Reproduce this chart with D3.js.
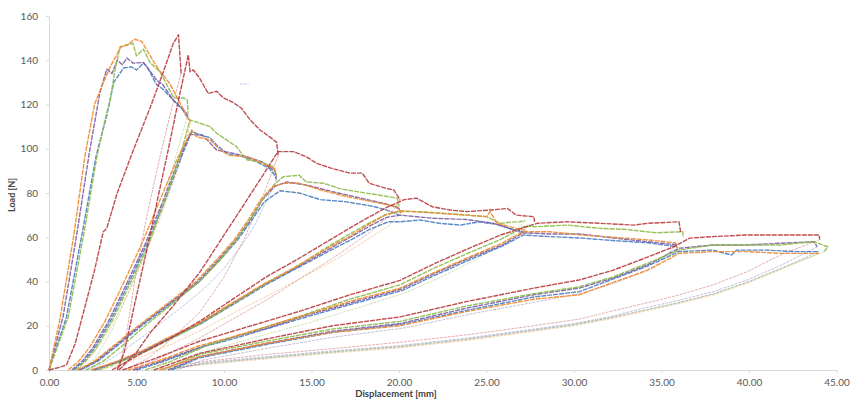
<!DOCTYPE html>
<html>
<head>
<meta charset="utf-8">
<script src="https://cdn.jsdelivr.net/npm/d3@7"></script>
<style>
  body { margin: 0; background: #fff; }
  text { font-family: Lato, "Open Sans", sans-serif; }
</style>
</head>
<body>
<script>
// Axis ticks
const xTicks = [0, 5, 10, 15, 20, 25, 30, 35, 40, 45];
const yTicks = [0, 20, 40, 60, 80, 100, 120, 140, 160];

// Specimen blue: [displacement mm, load N], cycle 1..6 + final unloading
const blue1 = [[0,0],[1.0,24],[1.9,62],[2.7,97],[3.3,115],[3.7,130],[4.26,136.5],[4.7,137],[5.0,135.6],[5.4,138.7],[5.6,137],[6.15,129],[6.5,127],[7.1,122],[7.6,118],[8.0,113]];
const blue2 = [[1.4,0],[2.0,4],[2.6,10],[3.5,22],[4.6,40],[5.6,57],[6.6,76],[7.5,95],[8.15,107.7],[8.8,106],[9.2,105],[9.58,101.7],[10.15,98],[11.1,96.4],[11.9,94],[12.6,91],[12.9,88],[13.0,86]];
const blue3 = [[1.8,0],[2.8,4],[3.9,11],[5.3,20],[6.8,29],[8.6,40],[9.8,50],[10.8,59],[11.6,68],[12.3,76],[13.2,81],[14.3,80],[15.5,77],[17,76],[18.5,74],[19.3,72.3],[20.0,70]];
const blue4 = [[2.6,0],[4.1,4],[5.6,9],[7.1,15],[8.7,21],[10.6,30],[12.5,39],[14.4,47],[16.3,55],[17.3,59],[18.3,63.5],[19.4,67],[20.06,67],[21.2,67.8],[22.3,66.3],[23.5,65.5],[24.6,67],[25.8,65.5],[26.5,63.3],[27.1,62]];
const blue5 = [[5.0,0],[6.6,4],[8.8,10.5],[10.7,14.5],[12.6,19],[14.5,23.5],[17.4,30],[20.2,36],[22.1,43],[24.1,50],[25.9,56],[27.1,61],[28.6,60.3],[30.5,59.6],[32.2,58.5],[34.2,57.5],[35.9,55.7]];
const blue6 = [[7.0,0],[8.6,5.5],[12.4,11.5],[16.2,17],[20.06,20.5],[23.9,27],[27.7,33],[30.3,35.4],[32.2,41],[34.2,47],[36,53.5],[37.9,54.2],[39,52],[39.3,54.2],[40.9,54.2],[42.7,53.5],[44,53.5]];
const blueU = [[44,53.5],[42,46.5],[40,40],[38,34.5],[36,30.5],[34,27],[32,23.5],[30,20.5],[27.7,18],[24,14],[20,10.5],[16,8],[12.4,5.5],[9,3],[7.0,0.5]];

// Specimen orange
const orange1 = [[0,0],[0.6,22],[1.4,60],[2.06,97],[2.6,120],[3.0,128],[3.5,137],[4.1,146],[4.5,147],[4.9,149.5],[5.3,148.5],[5.6,144.5],[6.0,139],[6.3,135.5],[6.9,129.5],[7.5,120.5],[7.9,114.5],[8.1,112]];
const orange2 = [[1.1,0],[1.7,4],[2.3,10],[3.2,22],[4.3,40],[5.3,57],[6.3,76],[7.3,95],[8.15,108.5],[8.44,105.4],[9.2,104],[9.4,102.6],[9.77,99.4],[10.3,97],[11.3,96.4],[12.2,93.4],[12.9,91],[13.0,88]];
const orange3 = [[1.6,0],[2.6,4],[3.7,11],[5.1,20],[6.6,29],[8.4,40],[9.6,50],[10.6,59],[11.4,68],[12.1,77],[12.8,83],[13.4,84.4],[14.3,84.4],[15.5,81.4],[17,78.4],[18.5,76],[19.9,73.8],[20.1,71]];
const orange4 = [[2.4,0],[3.9,4],[5.4,9],[6.9,15],[8.5,21],[10.4,30],[12.3,39],[14.2,47],[16.1,56],[17.1,60],[18.1,65],[19.2,70],[20.06,72],[21.9,71],[23.9,70],[25,69.3],[25.2,71.6],[25.6,66.3],[26.7,64],[27.3,63]];
const orange5 = [[4.5,0],[6.2,4],[8.6,11],[10.5,15],[12.4,19.5],[14.3,24],[17.2,31],[20.06,37],[22,44],[24,51],[25.8,57],[27.1,62.5],[28.6,62.5],[30.5,61],[32.2,60],[34.2,58.8],[35.8,57.5],[35.9,55]];
const orange6 = [[6.3,0],[8.6,6],[12.4,12],[16.2,17],[20.06,20],[23.9,26.5],[27.7,32],[30.3,34],[32.2,39.5],[34.2,45],[36,52.7],[37.9,53.5],[39.9,53.5],[41.8,52.7],[44,52.7]];
const orangeU = [[44,52.7],[42,46],[40,39.5],[38,34],[36,30],[34,26.5],[32,23],[30,20],[27.7,17.5],[24,13.5],[20,10],[16,7.5],[12.4,5],[9,2.5],[6.6,0.3]];

// Specimen green
const green1 = [[0,0],[1.1,24],[2.0,62],[2.75,97],[3.2,113],[3.5,122],[3.77,135.6],[4.06,146],[4.44,146.9],[4.8,147.6],[5.0,142],[5.4,145],[5.77,139],[6.34,134.8],[7.1,123.5],[7.3,122.9],[7.67,123],[7.9,122],[7.95,116]];
const green2 = [[1.5,0],[2.1,4],[2.7,10],[3.6,22],[4.7,40],[5.7,57],[6.6,76],[7.5,97],[8.06,113],[8.6,111.6],[9.2,110],[9.58,107],[9.96,105],[10.7,101],[11.3,95],[12.06,94],[12.8,92],[13.0,88]];
const green3 = [[2.1,0],[3.1,4],[4.2,11],[5.5,20],[6.9,29],[8.6,40],[9.8,50],[10.7,59],[11.5,68],[12.2,77],[12.9,84],[13.4,87.4],[14.3,88],[14.7,85],[15.7,84.4],[16.6,82],[17.6,80.6],[18.9,79],[19.9,77.7],[20.0,74]];
const green4 = [[2.8,0],[4.2,4],[5.7,9],[7.2,15],[8.7,21],[10.5,30],[12.4,39],[14.3,47.5],[16.2,57],[17.2,61.5],[18.2,66],[19.3,70.5],[20.06,71.6],[21.2,71.6],[22.3,71],[23.9,70],[25,69.3],[25.8,66.3],[26.4,66.8],[26.9,67],[27.2,67.5]];
const green5 = [[5.5,0],[7,4],[9,11],[10.8,15.5],[12.6,20],[14.4,24.5],[17.2,32],[20.06,38.5],[22,46],[24,53],[25.8,59],[27.2,65],[27.9,64.8],[29.6,65.5],[31.5,64],[33,63.5],[34.7,62],[36.2,62.5],[36.25,60]];
const green6 = [[6.5,0],[8.6,7],[12.4,13],[16.2,18.5],[20.06,22],[23.9,29],[27.7,34.5],[30.3,37.6],[32.2,42],[34.2,48.2],[36,54.2],[37.9,56.5],[39.9,56.5],[41.8,56.5],[43.7,58],[44.5,55.7],[44.3,53.5]];
const greenU = [[44.3,53.5],[42,46.5],[40,40],[38,34.5],[36,30.5],[34,27],[32,23.5],[30,20.5],[27.7,18],[24,14],[20,10.5],[16,8],[12.4,5.5],[9,3],[6.8,0.5]];

// Specimen purple
const purple1 = [[0,0],[0.8,24],[1.6,62],[2.3,98],[2.9,125],[3.3,136],[3.6,134],[3.9,140],[4.2,138],[4.45,141],[4.8,138.7],[5.4,139],[5.6,137],[6.15,131],[6.5,129],[7.1,122],[7.7,117.5],[8.0,114.5]];
const purple2 = [[1.3,0],[1.9,4],[2.5,10],[3.4,22],[4.5,40],[5.5,57],[6.5,76],[7.4,95],[8.06,106.5],[8.8,106],[9.58,99.4],[10.5,98],[11.3,96.4],[12.2,94],[12.9,90],[13.0,87]];
const purple3 = [[1.7,0],[2.7,4],[3.8,11],[5.2,20],[6.7,29],[8.5,40],[9.7,50],[10.7,59],[11.5,68],[12.2,77],[12.9,83],[13.6,85],[14.7,83.6],[16.2,80.6],[17.8,77.7],[19.3,75],[20,73],[20.1,71]];
const purple4 = [[2.5,0],[4.0,4],[5.5,9],[7.0,15],[8.6,21],[10.5,30],[12.4,39],[14.3,47],[16.2,55.5],[17.2,60],[18.2,64.5],[19.3,69],[20.06,70],[21.9,68.6],[23.9,68],[25.4,66.3],[26.3,64],[27.1,62.5]];
const purple5 = [[4.8,0],[6.4,4],[8.7,10.5],[10.6,15],[12.5,19],[14.4,24],[17.3,30.5],[20.1,36.5],[22.0,43.5],[24.0,50.5],[25.9,56.5],[27.1,62],[28.6,61.5],[30.3,61.5],[33.2,58.8],[35.9,56.6]];
const purple6 = [[6.8,0],[8.6,6],[12.4,12],[16.2,17.5],[20.06,21],[23.9,28],[27.7,34],[30.3,37],[32.2,41.5],[34.2,47.5],[36,55],[37.9,56.5],[39.9,56.5],[41.8,57.3],[43.7,58],[43.9,55.7]];
const purpleU = [[43.9,55.7],[42,48],[40,41],[38,35.5],[36,31.5],[34,28],[32,24],[30,21],[27.7,18.5],[24,14.5],[20,11],[16,8.5],[12.4,6],[9,3.5],[7.2,0.5]];

// Specimen red
const red1 = [[0,0],[0.5,1],[1.0,2.3],[1.5,12],[2.0,27],[2.6,45],[3.1,62.5],[3.3,64],[3.9,80],[4.8,99],[5.8,119],[6.5,134],[7.1,147.6],[7.4,151.5],[7.55,134]];
const red2 = [[3.9,0],[4.3,8],[4.9,30],[5.58,54],[6.2,77],[6.8,99],[7.4,122],[7.96,142.4],[8.06,134.8],[8.25,135.6],[8.6,132],[9.1,125],[9.58,126],[9.96,123],[10.5,121],[11.0,118.3],[11.5,113],[12.06,108.5],[12.5,106],[13.0,103],[13.1,97]];
const red3 = [[4.0,0],[5,8],[5.8,17],[7.1,29],[8.6,44],[10.5,67],[12.06,86],[12.9,96.4],[13.1,98.7],[13.96,98.7],[14.7,96.4],[15.3,93.4],[16.2,91],[17.2,89],[17.9,89],[18.3,84.4],[19.3,82],[19.7,81.4],[20.06,77]];
const red4 = [[3.6,0],[5.4,8],[7,14.5],[8.6,22],[10.5,32],[12.4,42],[14.3,50.5],[16.2,59.5],[17.8,67],[19.3,73.5],[20.3,77],[21,77.7],[21.9,73.8],[22.9,72.3],[23.9,71.6],[25.2,72.3],[26.2,73],[26.7,70],[27.7,69.3],[27.75,67]];
const red5 = [[4.2,0],[6,5],[8.6,13],[10.5,17.5],[12.4,22],[14.3,26.5],[17.2,34],[20.06,40.5],[22,48],[24,55],[25.8,61],[27.9,66.3],[29.6,67],[31.5,66.3],[33.4,65.5],[34.2,66.3],[36,67],[36.1,62]];
const red6 = [[6.0,0],[8.6,7.5],[12.4,14],[16.2,20],[20.06,24],[23.9,31],[27.7,37],[30.3,40.7],[32.2,45],[34.2,51],[35.7,55.7],[36.6,59.6],[37.9,60.3],[39.9,61],[41.8,61],[43.7,61],[44.0,61],[44.05,59]];
const redU = [[44.05,59],[41.8,52],[39.9,44.4],[37.9,38.4],[36,33.9],[34.2,30.4],[32.2,26.7],[30.3,23],[27.7,20],[24,16],[20,12.5],[16,9.5],[12.4,7],[9,4],[6.3,0.5]];

// Faint unloading branches of earlier cycles
const redF1 = [[7.55,134],[7.0,118],[6.3,95],[5.6,70],[5.0,45],[4.5,20],[4.1,3],[4.0,0]];
const greenF1 = [[7.95,116],[7.3,98],[6.6,78],[5.7,57],[4.6,36],[3.6,18],[2.7,6],[2.0,0]];
const orangeF1 = [[8.1,112],[7.5,94],[6.6,74],[5.6,54],[4.6,36],[3.6,20],[2.6,8],[1.6,0]];
const redF2 = [[13.1,97],[12.3,80],[11.2,60],[10,42],[8.6,26],[7,14],[5.6,5],[4.3,0]];
const blueF2 = [[13.0,86],[12.4,76],[11.8,66],[11.0,56],[10.0,46],[8.9,37],[7.2,26],[5.7,17],[4.3,9],[3.1,3],[2.2,0]];
const redF3 = [[20.06,77],[19.5,70],[18.3,62],[16.5,52],[14.5,42],[12.5,32],[10.5,23],[8.5,14],[6.5,6],[4.8,0]];
const orangeF3 = [[20.1,71],[19.4,65],[18.4,60],[17.4,55],[16.4,50],[14.5,42],[12.6,34],[10.6,26],[8.7,18],[7.1,12],[5.6,7],[4.1,2.5],[2.9,0]];
const greenF4 = [[27.2,67.5],[26.2,58],[24.4,50],[22.4,42],[20.4,35],[17.6,28],[14.7,21],[12.8,17],[11,13],[9.2,9],[7.2,3],[5.8,0]];
const purpleF5 = [[35.9,56.6],[34.6,47],[32.6,40],[30.6,35],[28,31],[24.2,25.5],[20.3,19],[16.4,15],[12.6,10],[8.8,4.5],[7.3,0]];
const blueStray = [[10.9,129.3],[11.4,129.3]];

const colors = {
  blue: "#4a7cc0",
  orange: "#ef8a2e",
  green: "#8dba4c",
  purple: "#7b5ca3",
  red: "#b83a3d"
};

const mainSeries = [
  ["blue", [blue1, blue2, blue3, blue4, blue5, blue6]],
  ["purple", [purple1, purple2, purple3, purple4, purple5, purple6]],
  ["green", [green1, green2, green3, green4, green5, green6]],
  ["orange", [orange1, orange2, orange3, orange4, orange5, orange6]],
  ["red", [red1, red2, red3, red4, red5, red6]]
];
const faintSeries = [
  ["red", redU], ["blue", blueU], ["orange", orangeU], ["green", greenU], ["purple", purpleU],
  ["red", redF1], ["green", greenF1], ["orange", orangeF1], ["red", redF2], ["blue", blueF2],
  ["red", redF3], ["orange", orangeF3], ["green", greenF4], ["purple", purpleF5], ["blue", blueStray]
];

const width = 853;
const height = 401;
const marginTop = 16;
const marginRight = 16.5;
const marginBottom = 31;
const marginLeft = 49;

const x = d3.scaleLinear().domain([0, 45]).range([marginLeft, width - marginRight]);
const y = d3.scaleLinear().domain([0, 160]).range([height - marginBottom, marginTop]);

const svg = d3.select("body").append("svg")
  .attr("width", width)
  .attr("height", height)
  .attr("viewBox", [0, 0, width, height]);

const line = d3.line().x(d => x(d[0])).y(d => y(d[1]));

// y axis
svg.append("g")
  .attr("transform", `translate(${marginLeft},0)`)
  .call(d3.axisLeft(y).tickValues(yTicks).tickSize(3).tickSizeOuter(0).tickPadding(8))
  .call(g => g.selectAll("path, line").attr("stroke", "#d9d9d9"))
  .call(g => g.selectAll("text").attr("fill", "#595959").attr("font-size", 10));

// x axis
svg.append("g")
  .attr("transform", `translate(0,${height - marginBottom})`)
  .call(d3.axisBottom(x).tickValues(xTicks).tickSize(3).tickSizeOuter(0).tickPadding(6).tickFormat(d3.format(".2f")))
  .call(g => g.selectAll("path, line").attr("stroke", "#d9d9d9"))
  .call(g => g.selectAll("text").attr("fill", "#595959").attr("font-size", 10));

// axis titles
svg.append("text")
  .attr("transform", `translate(15,${y(80) + 2}) rotate(-90)`)
  .attr("text-anchor", "middle")
  .attr("font-size", 9)
  .attr("font-weight", "bold")
  .attr("fill", "#404040")
  .text("Load [N]");

svg.append("text")
  .attr("x", 396)
  .attr("y", 397)
  .attr("text-anchor", "middle")
  .attr("font-size", 9.5)
  .attr("font-weight", "bold")
  .attr("fill", "#404040")
  .text("Displacement [mm]");

// faint unloading branches
svg.append("g")
  .selectAll("path")
  .data(faintSeries)
  .join("path")
  .attr("d", d => line(d[1]))
  .attr("fill", "none")
  .attr("stroke", d => colors[d[0]])
  .attr("stroke-opacity", 0.4)
  .attr("stroke-width", 1)
  .attr("stroke-linejoin", "round")
  .attr("stroke-dasharray", "3,1");

// load cycles
mainSeries.forEach(([name, cycles]) => {
  svg.append("g")
    .selectAll("path")
    .data(cycles)
    .join("path")
    .attr("d", line)
    .attr("fill", "none")
    .attr("stroke", colors[name])
    .attr("stroke-opacity", 0.9)
    .attr("stroke-width", 1.4)
    .attr("stroke-linejoin", "round")
    .attr("stroke-dasharray", "5,1");
});
</script>
</body>
</html>
